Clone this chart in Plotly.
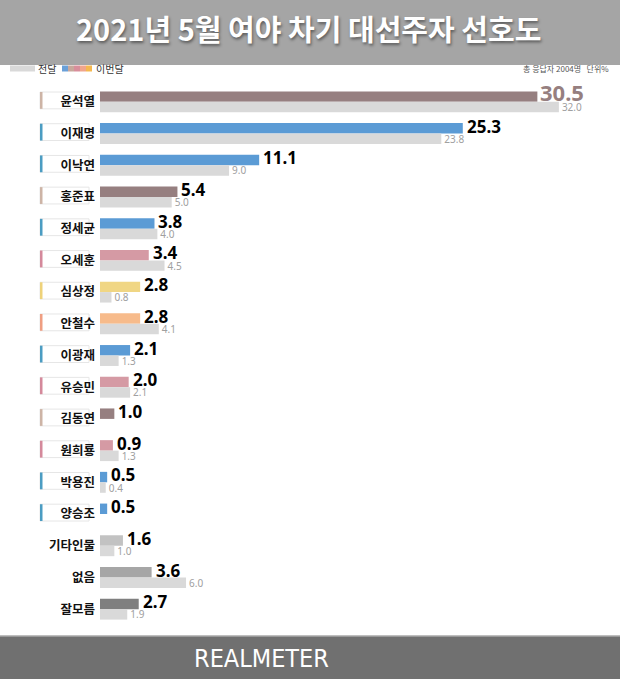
import plotly.graph_objects as go

# ---------------- data ----------------
names = ["윤석열", "이재명", "이낙연", "홍준표", "정세균", "오세훈", "심상정", "안철수",
         "이광재", "유승민", "김동연", "원희룡", "박용진", "양승조", "기타인물", "없음", "잘모름"]
current = [30.5, 25.3, 11.1, 5.4, 3.8, 3.4, 2.8, 2.8, 2.1, 2.0, 1.0, 0.9, 0.5, 0.5, 1.6, 3.6, 2.7]
previous = [32.0, 23.8, 9.0, 5.0, 4.0, 4.5, 0.8, 4.1, 1.3, 2.1, None, 1.3, 0.4, None, 1.0, 6.0, 1.9]
groups = ["pp", "dp", "dp", "pp", "dp", "ppk", "jp", "pk", "dp", "ppk", "pp", "ppk", "dp", "dp",
          "etc", "none", "dk"]

title_text = "2021년 5월 여야 차기 대선주자 선호도"
legend_prev = "전달"
legend_cur = "이번달"
note_text = "총 응답자 2004명   단위%"
footer_text = "REALMETER"

# ---------------- styles ----------------
bar_color = {"pp": "#967f80", "dp": "#5b9bd5", "ppk": "#d59aa4", "jp": "#f0d684",
             "pk": "#f7bb8b", "etc": "#c2c2c2", "none": "#a6a6a6", "dk": "#7f7f7f"}
edge_color = {"pp": "#cdb4a6", "dp": "#4b9cc2", "ppk": "#d4899b", "jp": "#eed27a",
              "pk": "#ef9e82"}
PREV = "#d9d9d9"

W, H = 620, 679
ML, MR, MT, MB = 100, 0, 86, 54
plot_h = H - MT - MB
plot_w = W - ML - MR
px_per_unit = 14.34
xmax = plot_w / px_per_unit


def py(p):  # pixel row -> paper y
    return (H - MB - p) / plot_h


def px(p):  # pixel col -> paper x
    return (p - ML) / plot_w


cur_colors = [bar_color[g] for g in groups]

fig = go.Figure()
fig.add_trace(go.Bar(
    y=names, x=current, orientation="h", name=legend_cur,
    marker=dict(color=cur_colors, line=dict(width=0)),
    hoverinfo="skip",
))
fig.add_trace(go.Bar(
    y=names, x=previous, orientation="h", name=legend_prev,
    marker=dict(color=PREV, line=dict(width=0)),
    text=[f"{v:.1f}" if v is not None else "" for v in previous], textposition="outside",
    textfont=dict(family="Noto Sans", color="#a0a0a0", size=10),
    constraintext="none", cliponaxis=False, hoverinfo="skip",
))

shapes = []
annotations = []
# current-month value labels
for i, v in enumerate(current):
    lead = (i == 0)
    annotations.append(dict(
        text=f"{v:.1f}", x=v, y=i - 0.17, xref="x", yref="y",
        showarrow=False, xanchor="left", yanchor="middle",
        xshift=1 if lead else 2, yshift=4 if lead else 2,
        font=dict(family="Noto Sans", size=22 if lead else 17,
                  color="#967f80" if lead else "#000000", weight="bold")))

# header / footer bands
shapes.append(dict(type="rect", xref="paper", yref="paper", x0=px(0), x1=px(W),
                   y0=py(65), y1=py(0), fillcolor="#a5a5a5", line=dict(width=0), layer="below"))
shapes.append(dict(type="rect", xref="paper", yref="paper", x0=px(0), x1=px(W),
                   y0=py(H), y1=py(636), fillcolor="#707070", line=dict(width=0), layer="below"))
shapes.append(dict(type="line", xref="paper", yref="paper", x0=px(0), x1=px(W),
                   y0=py(636), y1=py(636), line=dict(color="#a8a8a8", width=1.5)))

annotations.append(dict(text=title_text, xref="paper", yref="paper", x=px(308), y=py(28),
                        showarrow=False, xanchor="center", yanchor="middle",
                        font=dict(family="Noto Sans CJK KR", size=29, color="white", weight=600,
                                  shadow="1px 2px 3px rgba(0,0,0,0.45)")))
annotations.append(dict(text=footer_text, xref="paper", yref="paper", x=px(261), y=py(658),
                        showarrow=False, xanchor="center", yanchor="middle",
                        font=dict(family="DejaVu Sans Condensed, Roboto Condensed, Roboto",
                                  size=25, color="white", weight=300)))

# legend
shapes.append(dict(type="rect", xref="paper", yref="paper", x0=px(10), x1=px(35),
                   y0=py(71.5), y1=py(65.5), fillcolor=PREV, line=dict(width=0)))
annotations.append(dict(text=legend_prev, xref="paper", yref="paper", x=px(36), y=py(68),
                        showarrow=False, xanchor="left", yanchor="middle",
                        font=dict(family="Noto Sans CJK KR", size=10, color="#333333")))
legend_swatch = ["#6aa0d8", "#c8a89c", "#d88e9b", "#f0a58c", "#f5b84f"]
sw_x = [62, 68, 74, 80, 86, 92]
for k, c in enumerate(legend_swatch):
    shapes.append(dict(type="rect", xref="paper", yref="paper", x0=px(sw_x[k]), x1=px(sw_x[k + 1]),
                       y0=py(71.5), y1=py(65.5), fillcolor=c, line=dict(width=0)))
annotations.append(dict(text=legend_cur, xref="paper", yref="paper", x=px(94), y=py(68),
                        showarrow=False, xanchor="left", yanchor="middle",
                        font=dict(family="Noto Sans CJK KR", size=10, color="#333333")))
annotations.append(dict(text=note_text, xref="paper", yref="paper", x=px(611), y=py(68),
                        showarrow=False, xanchor="right", yanchor="middle",
                        font=dict(family="Noto Sans CJK KR", size=8, color="#555555")))

# label boxes
for i, g in enumerate(groups):
    if g not in edge_color:
        continue
    shapes.append(dict(type="rect", xref="paper", yref="y", x0=px(40), x1=px(89),
                       y0=i - 0.31, y1=i + 0.22, fillcolor="white",
                       line=dict(color="#e6e6e6", width=1), layer="below"))
    shapes.append(dict(type="rect", xref="paper", yref="y", x0=px(40), x1=px(42.5),
                       y0=i - 0.31, y1=i + 0.22, fillcolor=edge_color[g],
                       line=dict(width=0), layer="below"))

fig.update_layout(
    width=W, height=H, margin=dict(l=ML, r=MR, t=MT, b=MB),
    paper_bgcolor="white", plot_bgcolor="white",
    barmode="group", bargap=0.34, bargroupgap=0.0,
    showlegend=False, shapes=shapes, annotations=annotations,
    xaxis=dict(range=[0, xmax], visible=False, fixedrange=True),
    yaxis=dict(categoryorder="array", categoryarray=names, range=[16.5, -0.5],
               showgrid=False, zeroline=False, showline=False, ticks="",
               ticklabelstandoff=4,
               tickfont=dict(family="Noto Sans CJK KR", size=12.5, color="#111111", weight="bold")),
    font=dict(family="Noto Sans CJK KR"),
)

fig.write_html("out.html", config={"displayModeBar": False},
               post_script="document.body.style.margin='0';document.body.style.padding='0';")
